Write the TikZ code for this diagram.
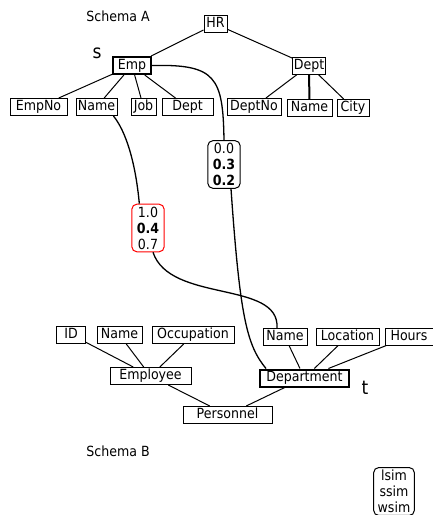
\documentclass[tikz,border=0pt]{standalone}
\usepackage{fontspec}
\setmainfont[FakeStretch=0.9]{DejaVu Sans}
\usetikzlibrary{shapes,arrows}
\tikzstyle{attr} = [rectangle, draw=black, line width=1pt, minimum height=17pt, inner sep=1pt, text height=10pt, text depth=3pt, text centered, font=\fontsize{14}{16}\selectfont]
\tikzstyle{elem} = [attr, line width=2pt]
\tikzstyle{simbox} = [rectangle, rounded corners=5pt, draw=black, line width=1pt, inner xsep=5pt, inner ysep=2.5pt, align=center, font=\fontsize{14}{16}\selectfont]
\tikzstyle{schemaname} = [font=\fontsize{14}{16}\selectfont]
\tikzstyle{corr} = [font=\fontsize{19}{22}\selectfont]
\tikzstyle{edge} = [line width=1pt]
\tikzstyle{link} = [line width=1.3pt]

\begin{document}
\begin{tikzpicture}[x=1pt, y=1pt, node distance=40pt]
\useasboundingbox (0,0) rectangle (433,-515);
% schema A
\node (hr) [attr, minimum width=23pt] at (215.5,-24) {HR};
\node (schemaA) [schemaname, left of=hr, xshift=-57.5pt, yshift=8pt] {Schema A};
\node (emp) [elem, minimum width=38pt, below of=hr, xshift=-83.5pt, yshift=-1.5pt] {Emp};
\node (s) [corr, left of=emp, xshift=5pt, yshift=12pt] {s};
\node (depta) [attr, minimum width=32pt, below of=hr, xshift=93.5pt, yshift=-1.5pt] {Dept};
\node (empno) [attr, minimum width=57pt, below of=emp, xshift=-93.5pt, yshift=-1.5pt] {EmpNo};
\node (namea) [attr, minimum width=41pt, below of=emp, xshift=-35.5pt, yshift=-1.5pt] {Name};
\node (job) [attr, minimum width=25pt, below of=emp, xshift=11.5pt, yshift=-1.5pt] {Job};
\node (deptattr) [attr, minimum width=51pt, below of=emp, xshift=55.5pt, yshift=-1.5pt] {Dept};
\node (deptno) [attr, minimum width=54pt, below of=depta, xshift=-55pt, yshift=-1.5pt] {DeptNo};
\node (dnamea) [attr, minimum width=45pt, below of=depta, xshift=0.5pt, yshift=-2.5pt] {Name};
\node (city) [attr, minimum width=32pt, below of=depta, xshift=44pt, yshift=-2.5pt] {City};
% similarity boxes
\node (sima) [simbox, below of=deptno, xshift=-30pt, yshift=-17.5pt] {0.0\\ \textbf{0.3}\\ \textbf{0.2}};
\node (simb) [simbox, draw=red, below of=namea, xshift=51.5pt, yshift=-81pt] {1.0\\ \textbf{0.4}\\ 0.7};
% schema B
\node (personnel) [attr, minimum width=89pt] at (227.5,-415) {Personnel};
\node (employee) [attr, minimum width=81pt, above of=personnel, xshift=-77pt, yshift=-1pt] {Employee};
\node (department) [elem, minimum width=89pt, above of=personnel, xshift=77pt, yshift=-3pt] {Department};
\node (t) [corr, right of=department, xshift=20.5pt, yshift=-10pt] {t};
\node (id) [attr, minimum width=29pt, above of=employee, xshift=-79.5pt, yshift=1.5pt] {ID};
\node (nameb) [attr, minimum width=45pt, above of=employee, xshift=-31pt, yshift=1pt] {Name};
\node (occupation) [attr, minimum width=82pt, above of=employee, xshift=42.5pt, yshift=1pt] {Occupation};
\node (dnameb) [attr, minimum width=44pt, above of=department, xshift=-19.5pt, yshift=1pt] {Name};
\node (location) [attr, minimum width=63pt, above of=department, xshift=43pt, yshift=1.5pt] {Location};
\node (hours) [attr, minimum width=48pt, above of=department, xshift=104.5pt, yshift=1.5pt] {Hours};
\node (schemaB) [schemaname, below of=employee, xshift=-32.5pt, yshift=-35pt] {Schema B};
\node (legend) [simbox, inner xsep=4pt, below of=personnel, xshift=166.5pt, yshift=-36.5pt] {lsim\\ ssim\\ wsim};

\draw [edge] (hr) -- (emp);
\draw [edge] (hr) -- (depta);
\draw [edge] (emp) -- (empno);
\draw [edge] (emp) -- (namea);
\draw [edge] (emp) -- (job);
\draw [edge] (emp) -- (deptattr);
\draw [edge] (depta) -- (deptno);
\draw [edge, line width=2pt] (depta) -- (dnamea);
\draw [edge] (depta) -- (city);
\draw [edge] (id) -- (employee);
\draw [edge] (nameb) -- (employee);
\draw [edge] (occupation) -- (employee);
\draw [edge] (employee) -- (personnel);
\draw [edge] (department) -- (personnel);
\draw [edge] (dnameb) -- (department);
\draw [edge] (location) -- (department);
\draw [edge] (hours) -- (department);

\draw [link] (emp.east) .. controls +(64,1.5) and +(-1,63) .. (sima.north);
\draw [link] ([xshift=7pt]sima.south) .. controls +(9,-129) and +(-19,23) .. ([xshift=7pt]department.north west);
\draw [link] ([xshift=-4pt]namea.south east) .. controls +(12,-15) and +(-4,43) .. ([xshift=8pt]simb.north west);
\draw [link] ([xshift=5pt]simb.south) .. controls +(17,-51) and +(3,48) .. ([xshift=-8pt]dnameb.north);
\end{tikzpicture}
\end{document}
